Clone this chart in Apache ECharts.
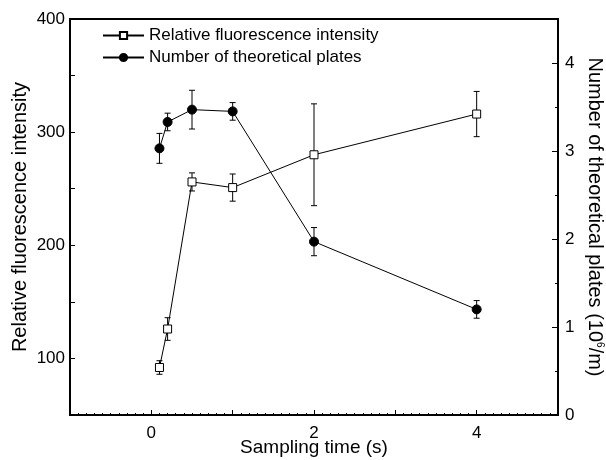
<!DOCTYPE html>
<html>
<head>
<meta charset="utf-8">
<script src="https://cdn.jsdelivr.net/npm/echarts@6/dist/echarts.min.js"></script>
<style>
  html, body { margin: 0; padding: 0; background: #fff; }
  #main { width: 606px; height: 460px; }
</style>
</head>
<body>
<div id="main"></div>
<script>
// sampling times (s)
const times = [0.1, 0.2, 0.5, 1, 2, 4];
// relative fluorescence intensity + error
const fluo = [92, 126, 256, 251, 280, 316];
const fluoErr = [6, 10, 8, 12, 45, 20];
// number of theoretical plates (10^6/m) + error
const plates = [3.03, 3.33, 3.47, 3.45, 1.97, 1.20];
const platesErr = [0.17, 0.1, 0.22, 0.1, 0.16, 0.1];

const font = 'Liberation Sans, Arial, sans-serif';

function errData(ys, errs) {
  return times.map((t, i) => [t, ys[i] - errs[i], ys[i] + errs[i]]);
}

function renderErr(params, api) {
  const x = api.value(0);
  const lo = api.coord([x, api.value(1)]);
  const hi = api.coord([x, api.value(2)]);
  const w = 3;
  const style = { stroke: '#000', lineWidth: 1 };
  return {
    type: 'group',
    children: [
      { type: 'line', shape: { x1: lo[0], y1: lo[1], x2: hi[0], y2: hi[1] }, style: style },
      { type: 'line', shape: { x1: hi[0] - w, y1: hi[1], x2: hi[0] + w, y2: hi[1] }, style: style },
      { type: 'line', shape: { x1: lo[0] - w, y1: lo[1], x2: lo[0] + w, y2: lo[1] }, style: style }
    ]
  };
}

const myChart = echarts.init(document.getElementById('main'));
const axisLine = { onZero: false, lineStyle: { color: '#000', width: 2 } };
const option = {
  animation: false,
  textStyle: { fontFamily: font, color: '#000' },
  grid: {
    left: 70, right: 48, top: 19, bottom: 45,
    outerBoundsMode: 'none', containLabel: false,
    show: true, borderColor: '#000', borderWidth: 2
  },
  legend: {
    orient: 'vertical',
    left: 97,
    top: 22,
    itemWidth: 41,
    itemHeight: 9,
    itemGap: 5,
    textStyle: { fontFamily: font, fontSize: 17, color: '#000' },
    data: ['Relative fluorescence intensity', 'Number of theoretical plates']
  },
  xAxis: {
    type: 'value',
    min: -1,
    max: 5,
    interval: 1,
    name: 'Sampling time (s)',
    nameLocation: 'middle',
    nameMoveOverlap: false,
    nameGap: 23,
    nameTextStyle: { fontSize: 19, color: '#000' },
    axisLine: axisLine,
    axisTick: { inside: true, length: 5, lineStyle: { color: '#000' } },
    minorTick: { show: true, splitNumber: 10, length: 2, lineStyle: { color: '#000' } },
    splitLine: { show: false },
    axisLabel: {
      margin: 10,
      fontSize: 17,
      color: '#000',
      formatter: v => (v >= 0 && v <= 4 && v % 2 === 0) ? String(v) : ''
    }
  },
  yAxis: [
    {
      type: 'value',
      min: 50,
      max: 400,
      interval: 50,
      name: 'Relative fluorescence intensity',
      nameLocation: 'middle',
      nameMoveOverlap: false,
      nameGap: 40,
      nameRotate: 90,
      nameTextStyle: { fontSize: 20, color: '#000' },
      axisLine: axisLine,
      axisTick: { inside: true, length: 5, lineStyle: { color: '#000' } },
      splitLine: { show: false },
      axisLabel: {
        margin: 5,
        fontSize: 17,
        color: '#000',
        formatter: v => v % 100 === 0 ? String(v) : ''
      }
    },
    {
      type: 'value',
      min: 0,
      max: 4.5,
      interval: 1,
      position: 'right',
      name: 'Number of theoretical plates (10{sup|6}/m)',
      nameLocation: 'middle',
      nameMoveOverlap: false,
      nameGap: 27,
      nameRotate: -90,
      nameTextStyle: {
        fontSize: 20,
        color: '#000',
        rich: { sup: { fontSize: 10, verticalAlign: 'top', padding: [0, 0, 9, 0] } }
      },
      axisLine: axisLine,
      axisTick: { inside: true, length: 6, lineStyle: { color: '#000' } },
      minorTick: { show: true, splitNumber: 2, length: 3, lineStyle: { color: '#000' } },
      splitLine: { show: false },
      minorSplitLine: { show: false },
      axisLabel: {
        margin: 7,
        fontSize: 17,
        color: '#000',
        formatter: v => Number.isInteger(v) ? String(v) : ''
      }
    }
  ],
  series: [
    {
      type: 'custom',
      yAxisIndex: 0,
      renderItem: renderErr,
      data: errData(fluo, fluoErr),
      z: 1,
      silent: true
    },
    {
      type: 'custom',
      yAxisIndex: 1,
      renderItem: renderErr,
      data: errData(plates, platesErr),
      z: 1,
      silent: true
    },
    {
      name: 'Relative fluorescence intensity',
      type: 'line',
      yAxisIndex: 0,
      data: times.map((t, i) => [t, fluo[i]]),
      symbol: 'rect',
      symbolSize: 8,
      lineStyle: { color: '#000', width: 1 },
      itemStyle: { color: '#fff', borderColor: '#000', borderWidth: 1 },
      z: 3
    },
    {
      name: 'Number of theoretical plates',
      type: 'line',
      yAxisIndex: 1,
      data: times.map((t, i) => [t, plates[i]]),
      symbol: 'circle',
      symbolSize: 9,
      lineStyle: { color: '#000', width: 1 },
      itemStyle: { color: '#000', borderColor: '#000', borderWidth: 1 },
      z: 3
    }
  ]
};
myChart.setOption(option);
</script>
</body>
</html>
